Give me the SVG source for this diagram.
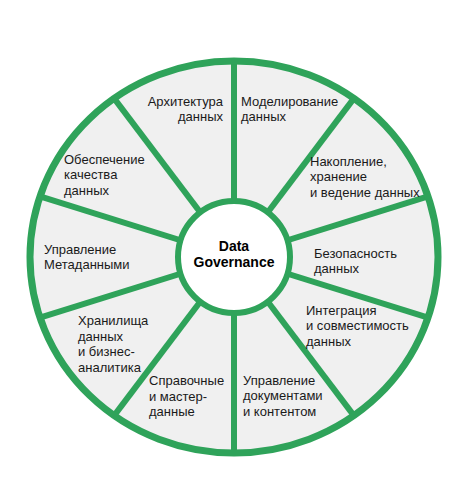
<svg xmlns="http://www.w3.org/2000/svg" width="460" height="493" viewBox="0 0 460 493">
<style>
.t{font-family:"Liberation Sans",Arial,sans-serif;font-size:13px;fill:#1a1a1a}
.h{font-family:"Liberation Sans",Arial,sans-serif;font-size:14px;font-weight:bold;fill:#000;text-anchor:middle}
.sp{stroke:#2fa35a;stroke-width:6;fill:none}
</style>
<rect width="460" height="493" fill="#fff"/>
<g id="wheel">
<ellipse cx="234" cy="257" rx="204" ry="196" fill="#f0f0f0"/>
</g>
<g id="connectors" class="sp">
<line x1="234" y1="257" x2="234" y2="61"/>
<line x1="234" y1="257" x2="353.9" y2="98.4"/>
<line x1="234" y1="257" x2="428" y2="196.4"/>
<line x1="234" y1="257" x2="428" y2="317.6"/>
<line x1="234" y1="257" x2="353.9" y2="415.6"/>
<line x1="234" y1="257" x2="234" y2="453"/>
<line x1="234" y1="257" x2="114.1" y2="415.6"/>
<line x1="234" y1="257" x2="40" y2="317.6"/>
<line x1="234" y1="257" x2="40" y2="196.4"/>
<line x1="234" y1="257" x2="114.1" y2="98.4"/>
</g>
<g id="rim">
<ellipse cx="234" cy="257" rx="204" ry="196" fill="none" stroke="#2fa35a" stroke-width="7"/>
</g>
<g id="center">
<circle cx="234" cy="257" r="56" fill="#fff" stroke="#2fa35a" stroke-width="6"/>
<text class="h" x="234" y="251">Data</text>
<text class="h" x="234" y="267">Governance</text>
</g>
<g id="n1"><text class="t" x="223" y="105.5" text-anchor="end">Архитектура</text><text class="t" x="223" y="121" text-anchor="end">данных</text></g>
<g id="n2"><text class="t" x="241" y="105.5">Моделирование</text><text class="t" x="241" y="121">данных</text></g>
<g id="n3"><text class="t" x="310" y="165.5">Накопление,</text><text class="t" x="310" y="181">хранение</text><text class="t" x="310" y="196.5">и ведение данных</text></g>
<g id="n4"><text class="t" x="314" y="257.5">Безопасность</text><text class="t" x="314" y="273">данных</text></g>
<g id="n5"><text class="t" x="306" y="314.5">Интеграция</text><text class="t" x="306" y="330">и совместимость</text><text class="t" x="306" y="345.5">данных</text></g>
<g id="n6"><text class="t" x="243" y="384.5">Управление</text><text class="t" x="243" y="400">документами</text><text class="t" x="243" y="415.5">и контентом</text></g>
<g id="n7"><text class="t" x="149" y="385">Справочные</text><text class="t" x="149" y="400.5">и мастер-</text><text class="t" x="149" y="416">данные</text></g>
<g id="n8"><text class="t" x="78" y="325">Хранилища</text><text class="t" x="78" y="340.5">данных</text><text class="t" x="78" y="356">и бизнес-</text><text class="t" x="78" y="371.5">аналитика</text></g>
<g id="n9"><text class="t" x="44" y="253.5">Управление</text><text class="t" x="44" y="269">Метаданными</text></g>
<g id="n10"><text class="t" x="64" y="163.5">Обеспечение</text><text class="t" x="64" y="179">качества</text><text class="t" x="64" y="194.5">данных</text></g>
</svg>
